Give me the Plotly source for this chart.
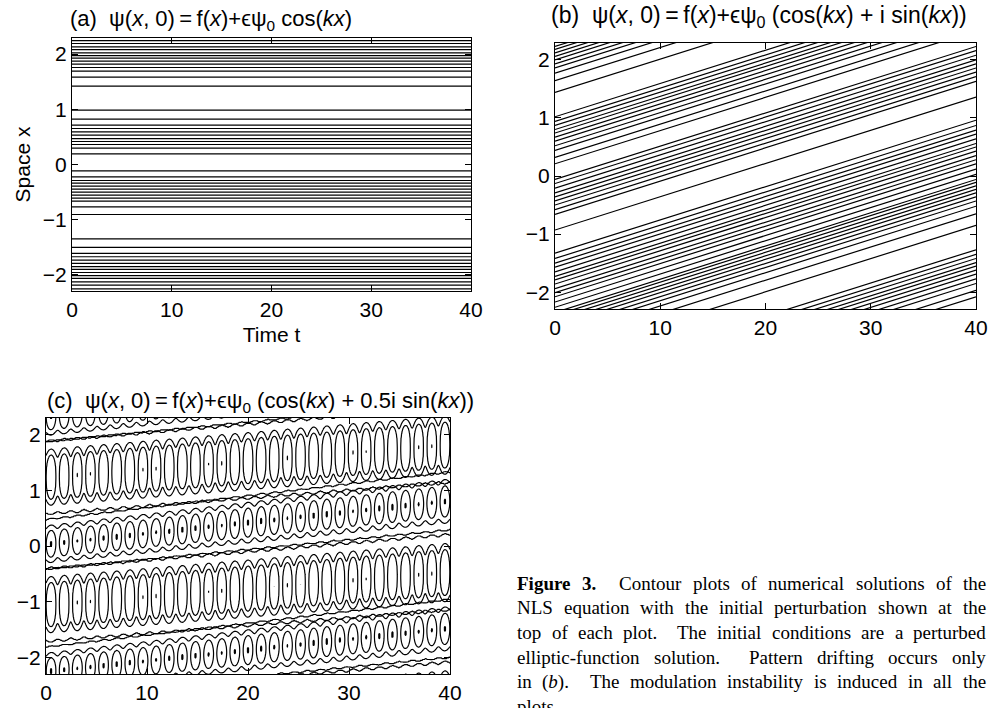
import numpy as np
import plotly.graph_objects as go

W, H = 992, 708

# ---------------- data ----------------
time_ticks = [0, 10, 20, 30, 40]
time_tick_text = ["0", "10", "20", "30", "40"]
space_ticks = [-2, -1, 0, 1, 2]
space_tick_text = ["\u22122", "\u22121", "0", "1", "2"]
time_range = [0, 40]
space_range = [-2.29, 2.29]

# (a) contour lines, constant in time, at these space positions
a_lines_x = [2.244, 2.19, 2.13, 2.08, 2.02, 1.97, 1.925, 1.87, 1.816, 1.756, 1.69, 1.58, 1.418,
             0.983, 0.82, 0.712, 0.652, 0.591, 0.531, 0.47, 0.416, 0.362, 0.296, 0.193,
             -0.115, -0.223, -0.29, -0.338, -0.392, -0.446, -0.50, -0.555, -0.609, -0.663,
             -0.766, -0.905,
             -1.345, -1.50, -1.61, -1.67, -1.73, -1.79, -1.85, -1.90, -1.955, -2.01, -2.063,
             -2.124, -2.184, -2.25]

# (b) contour lines at t = 0; the pattern drifts upward by b_drift over t = 0..40
b_lines_x0 = [2.23, 2.18, 2.12, 2.06, 2.00, 1.93, 1.86, 1.77, 1.64, 1.44,
              1.02, 0.94, 0.87, 0.80, 0.74, 0.67, 0.60, 0.52, 0.44, 0.32, 0.21,
              -0.06, -0.13, -0.21, -0.29, -0.36, -0.43, -0.50, -0.58, -0.66, -0.93,
              -1.33, -1.42, -1.50, -1.57, -1.65, -1.73, -1.79, -1.86, -1.94, -2.01,
              -2.08, -2.17, -2.26]
b_drift = 2.29
b_wrap = [0.0, -4.58]          # periodic copies of the space domain

# (c) rows of cells: [big row, small row]
c_space_period = 2.29
c_cell_period = 1.30
c_cell_t0 = 0.5
c_row_center_t0 = [1.23, 0.03]
c_row_center_t40 = [1.82, 0.81]
c_row_width_t0 = [0.55, 0.40]
c_row_width_t40 = [0.57, 0.47]
c_row_mod = [0.40, 0.26]
c_row_mod_width = [0.69, 0.67]       # relative to row width
c_row_levels = [[0.25, 0.50, 0.72, 1.404], [0.30, 0.55, 0.818, 1.245]]
c_beat_period = 6.8
c_beat_phase = [3.5, 0.1]
c_beat_depth = [0.03, 0.03]

titles = [
    "(a)\u00a0\u00a0\u03c8(<i>x</i>, 0)\u2009=\u2009f(<i>x</i>)+\u03f5\u03c8<sub>0</sub> cos(<i>kx</i>)",
    "(b)\u00a0\u00a0\u03c8(<i>x</i>, 0)\u2009=\u2009f(<i>x</i>)+\u03f5\u03c8<sub>0</sub> (cos(<i>kx</i>) + i sin(<i>kx</i>))",
    "(c)\u00a0\u00a0\u03c8(<i>x</i>, 0)\u2009=\u2009f(<i>x</i>)+\u03f5\u03c8<sub>0</sub> (cos(<i>kx</i>) + 0.5i sin(<i>kx</i>))",
]
title_pos = [(68, 20), (549, 17), (45, 402)]
title_size = [22, 23, 22]

# caption: words per line; "|" marks a double space
caption_lines = [
    ["<b>Figure</b>", "<b>3.</b>|", "Contour", "plots", "of", "numerical", "solutions", "of", "the"],
    ["NLS", "equation", "with", "the", "initial", "perturbation", "shown", "at", "the"],
    ["top", "of", "each", "plot.|", "The", "initial", "conditions", "are", "a", "perturbed"],
    ["elliptic-function", "solution.|", "Pattern", "drifting", "occurs", "only"],
    ["in", "(<i>b</i>).|", "The", "modulation", "instability", "is", "induced", "in", "all", "the"],
    ["plots."],
]
caption_left, caption_right = 516, 985
caption_top, caption_step = 583, 24.7

# ---------------- figure ----------------
SANS = "Liberation Sans, Arial, sans-serif"
SERIF = "Liberation Serif, Times New Roman, serif"
fig = go.Figure()

# (a)
xs, ys = [], []
for y0 in a_lines_x:
    xs += [time_range[0], time_range[1], None]
    ys += [y0, y0, None]
fig.add_trace(go.Scatter(x=xs, y=ys, mode="lines", line=dict(color="black", width=1.2),
                         xaxis="x", yaxis="y", hoverinfo="skip", showlegend=False))

# (b)
xs, ys = [], []
for s in b_wrap:
    for y0 in b_lines_x0:
        xs += [time_range[0], time_range[1], None]
        ys += [y0 + s, y0 + s + b_drift, None]
fig.add_trace(go.Scatter(x=xs, y=ys, mode="lines", line=dict(color="black", width=1.2),
                         xaxis="x2", yaxis="y2", hoverinfo="skip", showlegend=False))

# (c)
t = np.linspace(0, 40, 801)
xg = np.linspace(-2.4, 2.4, 321)
T, X = np.meshgrid(t, xg)
osc = np.cos(2 * np.pi * (T - c_cell_t0) / c_cell_period)
for r in range(2):
    center = c_row_center_t0[r] + (c_row_center_t40[r] - c_row_center_t0[r]) * T / 40.0
    w = c_row_width_t0[r] + (c_row_width_t40[r] - c_row_width_t0[r]) * T / 40.0
    wb = w * c_row_mod_width[r]
    m = c_row_mod[r] * (1 + c_beat_depth[r] * np.cos(2 * np.pi * (T - c_beat_phase[r]) / c_beat_period))
    Z = np.zeros_like(T)
    for k in (-2, -1, 0, 1, 2):
        u = X - center - k * c_space_period
        Z += np.exp(-(u / w) ** 2) + m * np.exp(-(u / wb) ** 2) * osc
    lv = c_row_levels[r]
    knots = [-10.0] + lv + [10.0]
    zi = np.interp(Z, knots, np.arange(len(knots))).astype(np.float32)
    fig.add_trace(go.Contour(
        x=t, y=xg, z=zi, xaxis="x3", yaxis="y3",
        contours=dict(start=1, end=len(lv), size=1, coloring="lines"),
        colorscale=[[0, "black"], [1, "black"]], showscale=False,
        line=dict(width=1.2, color="black", smoothing=1), hoverinfo="skip"))


def px_x(p):
    return p / W


def px_y(p):
    return 1 - p / H


axis_common = dict(showgrid=False, zeroline=False, showline=True, linecolor="black",
                   linewidth=1.3, mirror="ticks", ticks="inside", ticklen=6,
                   tickcolor="black", tickwidth=1, automargin=False,
                   tickfont=dict(family=SANS, size=21, color="black"))
tfont = dict(family=SANS, size=21, color="black")

fig.update_layout(
    width=W, height=H, margin=dict(l=0, r=0, t=0, b=0, autoexpand=False),
    paper_bgcolor="white", plot_bgcolor="white", showlegend=False,
    xaxis=dict(domain=[px_x(72), px_x(471)], range=time_range, anchor="y",
               tickvals=time_ticks, ticktext=time_tick_text,
               title=dict(text="Time t", font=tfont, standoff=6), **axis_common),
    yaxis=dict(domain=[px_y(291), px_y(38)], range=space_range, anchor="x",
               tickvals=space_ticks, ticktext=space_tick_text,
               title=dict(text="Space x", font=tfont, standoff=6), **axis_common),
    xaxis2=dict(domain=[px_x(555), px_x(976)], range=time_range, anchor="y2",
                tickvals=time_ticks, ticktext=time_tick_text, **axis_common),
    yaxis2=dict(domain=[px_y(309), px_y(43)], range=space_range, anchor="x2",
                tickvals=space_ticks, ticktext=space_tick_text, **axis_common),
    xaxis3=dict(domain=[px_x(46), px_x(450)], range=time_range, anchor="y3",
                tickvals=time_ticks, ticktext=time_tick_text, **axis_common),
    yaxis3=dict(domain=[px_y(674), px_y(418)], range=[-2.3, 2.3], anchor="x3",
                tickvals=space_ticks, ticktext=space_tick_text, **axis_common),
)

ann = []
for txt, (x0, y0), fs in zip(titles, title_pos, title_size):
    ann.append(dict(text=txt, x=px_x(x0), y=px_y(y0), xref="paper", yref="paper",
                    xanchor="left", yanchor="middle", showarrow=False,
                    font=dict(family=SANS, size=fs, color="black")))

# Times / Liberation Serif advance widths (1/1000 em) for a justified caption
TW = dict(zip("abcdefghijklmnopqrstuvwxyz",
              [444, 500, 444, 500, 444, 333, 500, 500, 278, 278, 500, 278, 778, 500, 500,
               500, 500, 333, 389, 278, 500, 500, 722, 500, 500, 444]))
TW.update({"N": 722, "L": 611, "S": 556, "T": 611, "P": 556, "C": 667, "F": 556,
           ".": 250, "(": 333, ")": 333, "-": 333, "3": 500, " ": 250})
TWB = dict(TW)
TWB.update({"F": 611, "u": 556, "r": 444, "g": 500, "i": 278, "e": 444, "3": 500, ".": 250})
CAP = 19


def word_width(wd):
    bold = "<b>" in wd
    plain = wd.replace("<b>", "").replace("</b>", "").replace("<i>", "").replace("</i>", "")
    tab = TWB if bold else TW
    return sum(tab.get(ch, 500) for ch in plain) * CAP / 1000.0


for li, words in enumerate(caption_lines):
    yc = px_y(caption_top + caption_step * li)
    clean = [wd.rstrip("|") for wd in words]
    weights = [2 if wd.endswith("|") else 1 for wd in words[:-1]]
    widths = [word_width(wd) for wd in clean]
    natural = sum(widths)
    last = li == len(caption_lines) - 1
    if last or len(words) == 1:
        gap_unit = 0.25 * CAP
    else:
        gap_unit = (caption_right - caption_left - natural) / sum(weights)
    xpos = caption_left
    for i, wd in enumerate(clean):
        ann.append(dict(text=wd, x=px_x(xpos - 1), y=yc, xref="paper", yref="paper",
                        xanchor="left", yanchor="middle", showarrow=False,
                        font=dict(family=SERIF, size=CAP, color="black")))
        if i < len(weights):
            xpos += widths[i] + gap_unit * weights[i]
fig.update_layout(annotations=ann)

fig.write_html("out.html", config={"displayModeBar": False},
               post_script="document.body.style.margin='0';document.body.style.overflow='hidden';")
